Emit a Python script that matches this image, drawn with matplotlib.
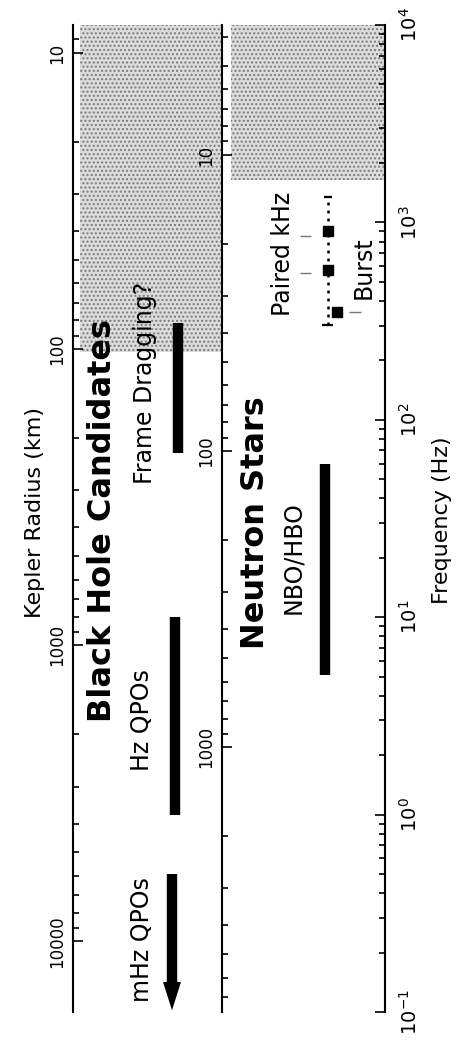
import numpy as np
import matplotlib
matplotlib.use("Agg")
import matplotlib.pyplot as plt
from matplotlib.ticker import LogLocator, FuncFormatter, NullFormatter

# ---------------- data ----------------
freq_decades = [0.1, 1, 10, 100, 1000, 10000]          # Hz
bh_radius_ticks = [10, 100, 1000, 10000]               # km
ns_radius_ticks = [10, 100, 1000]                      # km
bh_freq_at_10km = 7211.0     # Kepler frequency of r = 10 km on the black-hole axis (Hz)
ns_freq_at_10km = 2195.0     # Kepler frequency of r = 10 km on the neutron-star axis (Hz)
bh_shade_min_freq = 220.0    # stippled (inaccessible) region, black holes
ns_shade_min_freq = 1640.0   # stippled region, neutron stars
frame_dragging = [68.0, 310.0]
hz_qpos = [1.0, 10.0]
mhz_qpos_start = 0.5
mhz_qpos_head = [0.142, 0.102]
nbo_hbo = [5.1, 60.0]
paired_khz_range = [302.0, 1349.0]
paired_khz_points = [574.0, 907.0]
burst_point = [353.0]
paired_marks = [555.0, 853.0]
burst_marks = [353.0]

W, H = 458, 1046
fig = plt.figure(figsize=(W / 100, H / 100), dpi=100)
plt.rcParams['font.family'] = ['DejaVu Sans']

# main axes: x in pixel-like units, y = frequency
x_left, x_right, y_top, y_bot = 73, 385, 25, 1012
ax = fig.add_axes([x_left / W, 1 - y_bot / H, (x_right - x_left) / W, (y_bot - y_top) / H])
ax.set_yscale('log')
ax.set_ylim(freq_decades[0], freq_decades[-1])
ax.set_xlim(x_left, x_right)
for s in ['top', 'bottom', 'left']:
    ax.spines[s].set_visible(False)
ax.spines['right'].set_linewidth(1.5)
ax.set_xticks([])
ax.set_yticks(freq_decades)
ax.yaxis.set_minor_locator(LogLocator(base=10, subs=np.arange(2, 10)))
ax.yaxis.set_minor_formatter(NullFormatter())
ax.yaxis.tick_right()
ax.tick_params(axis='y', which='both', direction='in', right=True, left=False,
               labelright=True, labelleft=False, labelrotation=90, labelsize=14, pad=10)
ax.tick_params(axis='y', which='major', length=7, width=1.2)
ax.tick_params(axis='y', which='minor', length=4, width=1.2)
for lbl in ax.get_yticklabels():
    lbl.set_va('center')
ax.patch.set_alpha(0)


def make_funcs(f10):
    def f2r(f):
        f = np.maximum(np.asarray(f, dtype=float), 1e-300)
        return 10.0 * (f / f10) ** (-2.0 / 3.0)

    def r2f(r):
        r = np.maximum(np.asarray(r, dtype=float), 1e-300)
        return f10 * (r / 10.0) ** (-1.5)
    return f2r, r2f


def radius_axis(loc, f10, ticks):
    sec = ax.secondary_yaxis(loc, functions=make_funcs(f10))
    sec.set_yticks(ticks)
    sec.yaxis.set_major_formatter(FuncFormatter(lambda v, p: f"{v:g}"))
    sec.yaxis.set_minor_locator(LogLocator(base=10, subs=np.arange(2, 10)))
    sec.yaxis.set_minor_formatter(NullFormatter())
    sec.tick_params(axis='y', which='both', direction='in', labelrotation=90, labelsize=12, pad=5)
    sec.tick_params(axis='y', which='major', length=7, width=1.2)
    sec.tick_params(axis='y', which='minor', length=4, width=1.2)
    for sp in sec.spines.values():
        sp.set_linewidth(1.5)
    for lbl in sec.get_yticklabels():
        lbl.set_va('center')
    return sec


ns_x = 222
radius_axis(0.0, bh_freq_at_10km, bh_radius_ticks)
radius_axis((ns_x - x_left) / (x_right - x_left), ns_freq_at_10km, ns_radius_ticks)

# stippled regions
ax.fill_between([80, ns_x], bh_shade_min_freq, freq_decades[-1], facecolor='#dcdcdc',
                edgecolor='#7a7a7a', hatch='....', linewidth=0, zorder=0)
ax.fill_between([231, x_right], ns_shade_min_freq, freq_decades[-1], facecolor='#dcdcdc',
                edgecolor='#7a7a7a', hatch='....', linewidth=0, zorder=0)

# black bars
bar_lw = 7.5
ax.vlines(178, frame_dragging[0], frame_dragging[1], color='black', lw=bar_lw, zorder=3)
ax.vlines(175, hz_qpos[0], hz_qpos[1], color='black', lw=bar_lw, zorder=3)
ax.vlines(172, mhz_qpos_head[0], mhz_qpos_start, color='black', lw=bar_lw, zorder=3)
ax.fill([163, 181, 172], [mhz_qpos_head[0], mhz_qpos_head[0], mhz_qpos_head[1]],
        color='black', zorder=3, lw=0)
ax.vlines(325, nbo_hbo[0], nbo_hbo[1], color='black', lw=bar_lw, zorder=3)

# paired kHz / burst
ax.vlines(328, paired_khz_range[0], paired_khz_range[1], color='black', lw=1.8,
          linestyles=(0, (1.2, 2.0)), zorder=3)
ax.hlines([paired_khz_range[0]], 322, 333, color='black', lw=1.6, zorder=3)
ax.hlines([paired_khz_range[1]], 324, 332, color='black', lw=1.6, zorder=3)
ax.plot([328] * len(paired_khz_points), paired_khz_points, 's', color='black', ms=6.5, zorder=4)
ax.plot([337] * len(burst_point), burst_point, 's', color='black', ms=6.5, zorder=4)
ax.hlines(paired_marks, 300, 311, color='#777777', lw=1.0, zorder=3)
ax.hlines(burst_marks, 349, 361, color='#777777', lw=1.0, zorder=3)


def ftxt(x, y, s, **kw):
    fig.text(x / W, 1 - y / H, s, rotation=90, ha='center', va='center', **kw)


ftxt(35, 513, 'Kepler Radius (km)', fontsize=16)
ftxt(442, 520, 'Frequency (Hz)', fontsize=16)
ftxt(103, 520, 'Black Hole Candidates', fontsize=23, fontweight='bold')
ftxt(255, 523, 'Neutron Stars', fontsize=23, fontweight='bold')
ftxt(145, 383, 'Frame Dragging?', fontsize=17)
ftxt(142, 720, 'Hz QPOs', fontsize=17)
ftxt(142, 940, 'mHz QPOs', fontsize=17)
ftxt(293, 558, 'NBO/HBO', fontsize=17)
ftxt(283, 254, 'Paired kHz', fontsize=17)
ftxt(364, 268, 'Burst', fontsize=17)

fig.savefig('out.png', dpi=100)
